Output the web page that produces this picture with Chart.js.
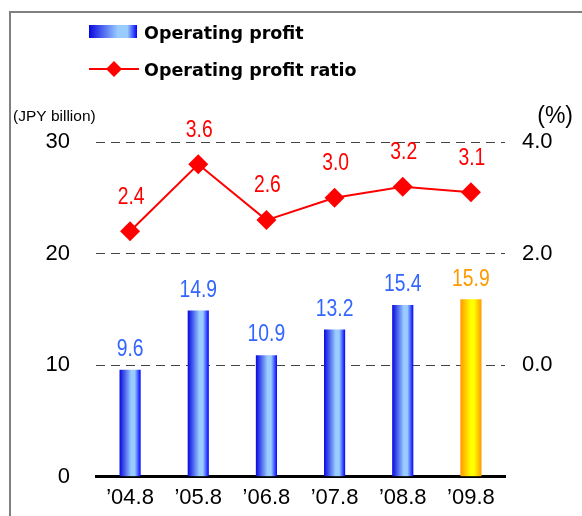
<!DOCTYPE html>
<html lang="en">
<head>
<meta charset="UTF-8">
<title>Operating profit</title>
<script src="https://cdn.jsdelivr.net/npm/chart.js"></script>
<style>
    body {
        margin: 0;
        background: #fff;
    }
    #wrap {
        width: 582px;
        height: 516px;
    }
</style>
</head>
<body>
<div id="wrap"><canvas id="chart" width="582" height="516"></canvas></div>
<script>
// data
const periods = ['\u201904.8', '\u201905.8', '\u201906.8', '\u201907.8', '\u201908.8', '\u201909.8'];
const profit = [9.6, 14.9, 10.9, 13.2, 15.4, 15.9];
const profitRatio = [2.4, 3.6, 2.6, 3.0, 3.2, 3.1];
const leftTicks = [0, 10, 20, 30];
const rightTicks = [0, 2, 4];

const numFont = "'Liberation Sans', sans-serif";
const BAR_PCT = 0.31;
const lastIdx = profit.length - 1;

// horizontal gradient for each bar, positioned with the x scale
function barFill(ctx) {
    const chart = ctx.chart;
    const xs = chart.scales.x;
    if (!chart.chartArea || !xs || ctx.dataIndex === undefined) return '#3366ff';
    const cx = xs.getPixelForValue(ctx.dataIndex);
    const w = xs.width / periods.length * BAR_PCT;
    const g = chart.ctx.createLinearGradient(cx - w / 2, 0, cx + w / 2, 0);
    if (ctx.dataIndex === lastIdx) {
        g.addColorStop(0, '#ff9900');
        g.addColorStop(0.5, '#ffff00');
        g.addColorStop(0.65, '#ffff00');
        g.addColorStop(1, '#ff9900');
    } else {
        g.addColorStop(0, '#0808e0');
        g.addColorStop(0.55, '#99ccff');
        g.addColorStop(0.72, '#99ccff');
        g.addColorStop(1, '#0000ff');
    }
    return g;
}

// narrow text: squeeze horizontally round its centre
function narrowText(c, txt, x, y, k) {
    c.save();
    c.translate(x, y);
    c.scale(k, 1);
    c.fillText(txt, 0, 0);
    c.restore();
}

const extras = {
    id: 'extras',
    afterDraw(chart) {
        const c = chart.ctx;
        c.save();

        // frame
        c.strokeStyle = '#808080';
        c.lineWidth = 2;
        c.beginPath();
        c.moveTo(10, 516);
        c.lineTo(10, 12);
        c.lineTo(582, 12);
        c.stroke();

        // legend
        const lg = c.createLinearGradient(89, 0, 137, 0);
        lg.addColorStop(0, '#0808e0');
        lg.addColorStop(0.6, '#99ccff');
        lg.addColorStop(0.8, '#99ccff');
        lg.addColorStop(1, '#0000ff');
        c.fillStyle = lg;
        c.fillRect(89, 25, 48, 13);
        c.strokeStyle = '#ff0000';
        c.lineWidth = 2;
        c.beginPath();
        c.moveTo(89, 69);
        c.lineTo(139, 69);
        c.stroke();
        c.fillStyle = '#ff0000';
        c.beginPath();
        c.moveTo(114, 61);
        c.lineTo(122, 69);
        c.lineTo(114, 77);
        c.lineTo(106, 69);
        c.closePath();
        c.fill();
        c.fillStyle = '#000';
        c.font = "bold 17.5px 'DejaVu Sans', sans-serif";
        c.textAlign = 'left';
        c.textBaseline = 'middle';
        c.fillText(chart.data.datasets[0].label, 144, 34);
        c.fillText(chart.data.datasets[1].label, 144, 71);

        // axis units
        c.font = "15.5px 'Liberation Sans', sans-serif";
        c.fillText('(JPY billion)', 13, 117);
        c.font = "23px 'Liberation Sans', sans-serif";
        c.textAlign = 'right';
        c.fillText('(%)', 573, 117);

        // value labels
        c.textAlign = 'center';
        c.font = '23px ' + numFont;
        chart.getDatasetMeta(0).data.forEach((el, i) => {
            c.fillStyle = i === lastIdx ? '#ff9900' : '#3366ff';
            narrowText(c, profit[i].toFixed(1), el.x, el.y - 20, 0.84);
        });
        c.fillStyle = '#ff0000';
        chart.getDatasetMeta(1).data.forEach((el, i) => {
            narrowText(c, profitRatio[i].toFixed(1), el.x + 1, el.y - 34, 0.84);
        });
        c.restore();
    }
};

const ctx = document.getElementById('chart').getContext('2d');
new Chart(ctx, {
    data: {
        labels: periods,
        datasets: [{
            type: 'bar',
            label: 'Operating profit',
            data: profit,
            yAxisID: 'y',
            backgroundColor: barFill,
            borderWidth: 0,
            barPercentage: BAR_PCT,
            categoryPercentage: 1,
            order: 2
        }, {
            type: 'line',
            label: 'Operating profit ratio',
            data: profitRatio,
            yAxisID: 'y1',
            borderColor: '#ff0000',
            backgroundColor: '#ff0000',
            borderWidth: 2,
            pointStyle: 'rectRot',
            pointRadius: 10,
            pointBorderWidth: 0,
            order: 1
        }]
    },
    options: {
        responsive: false,
        animation: false,
        layout: { padding: { left: 0, right: 0, top: 142, bottom: 0 } },
        plugins: {
            legend: { display: false },
            tooltip: { enabled: false }
        },
        scales: {
            x: {
                offset: true,
                grid: { display: false, drawTicks: false },
                border: { display: true, color: '#000', width: 3 },
                ticks: { color: '#000', font: { family: numFont, size: 22 }, padding: 8, maxRotation: 0 },
                afterFit: s => { s.height = 37; }
            },
            y: {
                position: 'left',
                min: 0,
                max: 30,
                afterBuildTicks: s => { s.ticks = leftTicks.map(v => ({ value: v })); },
                grid: {
                    drawTicks: false,
                    color: c => c.tick && c.tick.value === 0 ? 'rgba(0,0,0,0)' : '#444',
                    lineWidth: 1
                },
                border: { display: false, dash: [9, 6] },
                ticks: { color: '#000', font: { family: numFont, size: 22 }, padding: 26 },
                afterFit: s => { s.width = 96; }
            },
            y1: {
                position: 'right',
                min: -2,
                max: 4,
                afterBuildTicks: s => { s.ticks = rightTicks.map(v => ({ value: v })); },
                grid: { display: false, drawTicks: false },
                border: { display: false },
                ticks: {
                    color: '#000',
                    font: { family: numFont, size: 22 },
                    padding: 17,
                    callback: v => Number(v).toFixed(1)
                },
                afterFit: s => { s.width = 77; }
            }
        }
    },
    plugins: [extras]
});
</script>
</body>
</html>
